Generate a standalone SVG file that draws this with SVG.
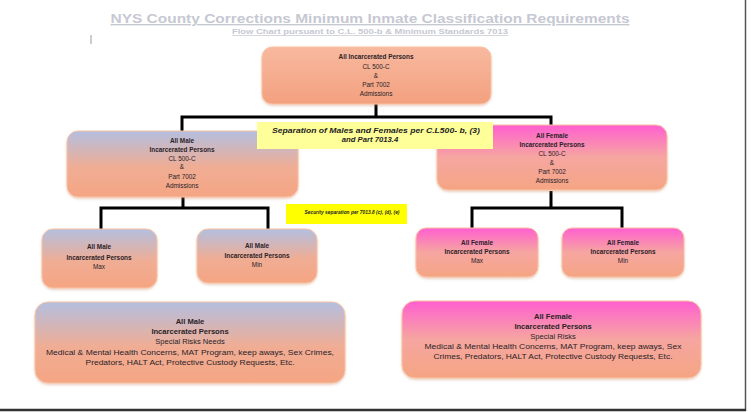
<svg xmlns="http://www.w3.org/2000/svg" width="751" height="412" viewBox="0 0 751 412">
<defs>
<linearGradient id="gTop" x1="0" y1="0" x2="0" y2="1">
<stop offset="0" stop-color="#f8b99f"/><stop offset="1" stop-color="#f3a07f"/>
</linearGradient>
<linearGradient id="gMale" x1="0" y1="0" x2="0" y2="1">
<stop offset="0" stop-color="#b3bfe0"/><stop offset="0.55" stop-color="#f0ad94"/><stop offset="1" stop-color="#f5a583"/>
</linearGradient>
<linearGradient id="gFem" x1="0" y1="0" x2="0" y2="1">
<stop offset="0" stop-color="#ff5fd0"/><stop offset="0.5" stop-color="#f6a6a0"/><stop offset="1" stop-color="#f5a583"/>
</linearGradient>
<filter id="sh" x="-5%" y="-5%" width="110%" height="120%">
<feDropShadow dx="0" dy="1.5" stdDeviation="1" flood-color="#c87850" flood-opacity="0.35"/>
</filter>
</defs>
<style>
.box{stroke:#f7c3a3;stroke-width:1;filter:url(#sh)}
.t{font-family:"Liberation Sans",Arial,sans-serif;font-size:6.4px;fill:#2a2228;text-anchor:middle}
.b{font-weight:bold}
.tb{font-family:"Liberation Sans",Arial,sans-serif;font-size:7.6px;fill:#2a2228;text-anchor:middle}
.y{font-family:"Liberation Sans",Arial,sans-serif;font-weight:bold;font-style:italic;fill:#222;text-anchor:middle}
.conn{fill:none;stroke:#000;stroke-width:3}
</style>
<rect width="751" height="412" fill="#fff"/>
<g id="title">
<text x="370" y="23" text-anchor="middle" font-family="Liberation Sans, Arial, sans-serif" font-weight="bold" font-size="13.6" fill="#c6c8d2" text-decoration="underline" textLength="519" lengthAdjust="spacingAndGlyphs">NYS County Corrections Minimum Inmate Classification Requirements</text>
<text x="370" y="34" text-anchor="middle" font-family="Liberation Sans, Arial, sans-serif" font-weight="bold" font-size="7.2" fill="#c6c8d2" text-decoration="underline" textLength="276" lengthAdjust="spacingAndGlyphs">Flow Chart pursuant to C.L. 500-b &amp; Minimum Standards 7013</text>
<line x1="91" y1="35" x2="91" y2="44" stroke="#9a9a9a" stroke-width="1"/>
</g>
<g id="connectors">
<path class="conn" d="M376 104V117M182 131V117H551V125"/>
<path class="conn" d="M183 197V208M101 229V208H268V229"/>
<path class="conn" d="M551 191V208M472 228V208H622V228"/>
</g>
<g id="n-all">
<rect class="box" x="262" y="47" width="229" height="57" rx="10" fill="url(#gTop)"/>
<text class="t b" x="376" y="59">All Incarcerated Persons</text>
<text class="t" x="376" y="69">CL 500-C</text>
<text class="t" x="376" y="78">&amp;</text>
<text class="t" x="376" y="87">Part 7002</text>
<text class="t" x="376" y="96">Admissions</text>
</g>
<g id="n-male">
<rect class="box" x="67" y="131" width="231" height="66" rx="11" fill="url(#gMale)"/>
<text class="t b" x="182" y="143">All Male</text>
<text class="t b" x="182" y="152">Incarcerated Persons</text>
<text class="t" x="182" y="161">CL 500-C</text>
<text class="t" x="182" y="169">&amp;</text>
<text class="t" x="182" y="179">Part 7002</text>
<text class="t" x="182" y="188">Admissions</text>
</g>
<g id="n-female">
<rect class="box" x="437" y="125" width="230" height="65" rx="11" fill="url(#gFem)"/>
<text class="t b" x="552" y="138">All Female</text>
<text class="t b" x="552" y="147">Incarcerated Persons</text>
<text class="t" x="552" y="156">CL 500-C</text>
<text class="t" x="552" y="165">&amp;</text>
<text class="t" x="552" y="174">Part 7002</text>
<text class="t" x="552" y="183">Admissions</text>
</g>
<g id="sep-label">
<rect x="257" y="122" width="236" height="27" fill="#ffff99"/>
<text class="y" x="376" y="132.5" font-size="7.7" textLength="208" lengthAdjust="spacingAndGlyphs">Separation of Males and Females per C.L500- b, (3)</text>
<text class="y" x="370" y="141.5" font-size="7.7">and Part 7013.4</text>
</g>
<g id="sec-label">
<rect x="286" y="204" width="121" height="20" fill="#ffff00"/>
<text class="y" x="352" y="213.5" font-size="4.6" textLength="95" lengthAdjust="spacingAndGlyphs">Security separation per 7013.8 (c), (d), (e)</text>
</g>
<g id="n-male-max">
<rect class="box" x="42" y="229" width="115" height="59" rx="11" fill="url(#gMale)"/>
<text class="t b" x="99" y="249">All Male</text>
<text class="t b" x="99" y="260">Incarcerated Persons</text>
<text class="t" x="99" y="269">Max</text>
</g>
<g id="n-male-min">
<rect class="box" x="197" y="229" width="120" height="54" rx="11" fill="url(#gMale)"/>
<text class="t b" x="257" y="248">All Male</text>
<text class="t b" x="257" y="258">Incarcerated Persons</text>
<text class="t" x="257" y="267">Min</text>
</g>
<g id="n-female-max">
<rect class="box" x="416" y="228" width="122" height="49" rx="10" fill="url(#gFem)"/>
<text class="t b" x="477" y="245">All Female</text>
<text class="t b" x="477" y="254">Incarcerated Persons</text>
<text class="t" x="477" y="263">Max</text>
</g>
<g id="n-female-min">
<rect class="box" x="562" y="228" width="122" height="49" rx="10" fill="url(#gFem)"/>
<text class="t b" x="623" y="245">All Female</text>
<text class="t b" x="623" y="254">Incarcerated Persons</text>
<text class="t" x="623" y="263">Min</text>
</g>
<g id="n-male-risk">
<rect class="box" x="35" y="302" width="310" height="81" rx="13" fill="url(#gMale)"/>
<text class="tb b" x="190" y="323.5">All Male</text>
<text class="tb b" x="190" y="333.5">Incarcerated Persons</text>
<text class="tb" x="190" y="343.5">Special Risks Needs</text>
<text class="tb" x="190" y="354.5" textLength="288" lengthAdjust="spacingAndGlyphs">Medical &amp; Mental Health Concerns, MAT Program, keep aways, Sex Crimes,</text>
<text class="tb" x="190" y="364.5" textLength="209" lengthAdjust="spacingAndGlyphs">Predators, HALT Act, Protective Custody Requests, Etc.</text>
</g>
<g id="n-female-risk">
<rect class="box" x="402" y="301" width="299" height="77" rx="13" fill="url(#gFem)"/>
<text class="tb b" x="553" y="318.5">All Female</text>
<text class="tb b" x="553" y="328.5">Incarcerated Persons</text>
<text class="tb" x="553" y="338.5">Special Risks</text>
<text class="tb" x="553" y="349" textLength="257" lengthAdjust="spacingAndGlyphs">Medical &amp; Mental Health Concerns, MAT Program, keep aways, Sex</text>
<text class="tb" x="553" y="359" textLength="239" lengthAdjust="spacingAndGlyphs">Crimes, Predators, HALT Act, Protective Custody Requests, Etc.</text>
</g>
<g id="frame">
<line x1="745.5" y1="0" x2="745.5" y2="411" stroke="#555" stroke-width="1.5"/>
<line x1="0" y1="410" x2="746" y2="410" stroke="#333" stroke-width="2.5"/>
</g>
</svg>
